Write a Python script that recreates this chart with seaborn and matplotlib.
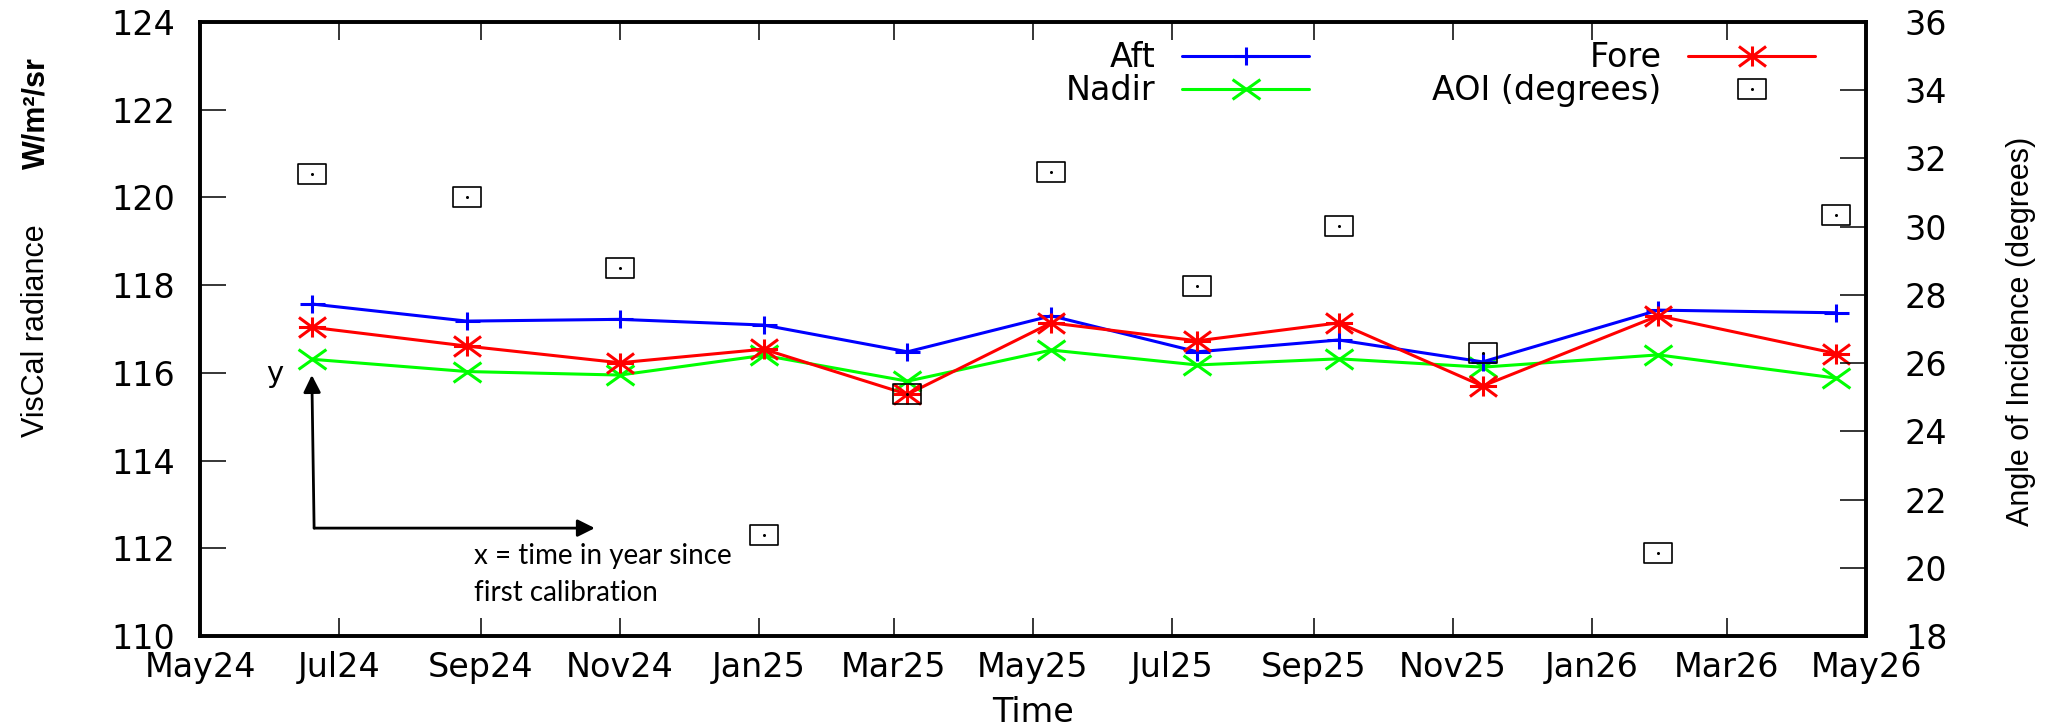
import numpy as np
import pandas as pd
import matplotlib
matplotlib.use("Agg")
import matplotlib.pyplot as plt
import matplotlib.dates as mdates
from matplotlib.path import Path
from matplotlib.legend_handler import HandlerTuple
from matplotlib import font_manager
import seaborn as sns

# calibration dates and values
dates = pd.to_datetime(["2024-06-19", "2024-08-26", "2024-11-01", "2025-01-03",
                        "2025-03-07", "2025-05-09", "2025-07-12", "2025-09-12",
                        "2025-11-14", "2026-01-30", "2026-04-18"])
aft = [117.57, 117.18, 117.22, 117.09, 116.48, 117.30, 116.48, 116.75, 116.25, 117.43, 117.37]
fore = [117.04, 116.61, 116.23, 116.54, 115.51, 117.14, 116.73, 117.14, 115.70, 117.30, 116.44]
nadir = [116.31, 116.03, 115.95, 116.40, 115.81, 116.52, 116.18, 116.32, 116.13, 116.41, 115.88]
aoi = [31.55, 30.87, 28.8, 20.96, 25.09, 31.6, 28.27, 30.03, 26.3, 20.43, 30.35]

sns.set_style("ticks", {"axes.edgecolor": "black", "xtick.color": "black",
                        "ytick.color": "black", "text.color": "black",
                        "axes.labelcolor": "black"})
plt.rcParams["font.family"] = ["DejaVu Sans"]

# narrow font for the rotated axis titles, if present
names = {f.name for f in font_manager.fontManager.ttflist}
if "Liberation Sans Narrow" in names:
    vfont, vsize = "Liberation Sans Narrow", 27
else:
    vfont, vsize = "Liberation Sans", 22

# gnuplot-like point shapes (a bit wider than tall)
M, L, C = Path.MOVETO, Path.LINETO, Path.CLOSEPOLY
plus = Path([(-1.4, 0), (1.4, 0), (0, -1), (0, 1)], [M, L, M, L])
cross = Path([(-1.4, -1), (1.4, 1), (-1.4, 1), (1.4, -1)], [M, L, M, L])
star = Path([(-1.35, 0), (1.35, 0), (0, -1), (0, 1),
             (-1.35, -1), (1.35, 1), (-1.35, 1), (1.35, -1)], [M, L] * 4)
box = Path([(-1.4, -1), (1.4, -1), (1.4, 1), (-1.4, 1), (-1.4, -1)], [M, L, L, L, C])

fig = plt.figure(figsize=(20.46, 7.27), dpi=100)
ax = fig.add_axes([200 / 2046, 91 / 727, 1666 / 2046, 614 / 727])

sns.lineplot(x=dates, y=nadir, ax=ax, color="#00ff00", lw=2.2, marker=cross, ms=20,
             mec="#00ff00", mfc="none", mew=2.2, zorder=3)
l_nadir = ax.lines[-1]
sns.lineplot(x=dates, y=aft, ax=ax, color="#0000ff", lw=2.2, marker=plus, ms=18,
             mec="#0000ff", mfc="none", mew=2.2, zorder=4)
l_aft = ax.lines[-1]
sns.lineplot(x=dates, y=fore, ax=ax, color="#ff0000", lw=2.2, marker=star, ms=19.5,
             mec="#ff0000", mfc="none", mew=2.2, zorder=5)
l_fore = ax.lines[-1]

ax2 = ax.twinx()
sns.lineplot(x=dates, y=aoi, ax=ax2, color="black", ls="none", marker=box, ms=20,
             mec="black", mfc="none", mew=1.2)
l_box = ax2.lines[-1]
sns.lineplot(x=dates, y=aoi, ax=ax2, color="black", ls="none", marker="o", ms=2.2,
             mec="black", mfc="black", mew=0)
l_dot = ax2.lines[-1]

ax.set_xlim(pd.Timestamp("2024-05-01"), pd.Timestamp("2026-05-01"))
ax.set_ylim(110, 124)
ax.set_yticks(np.arange(110, 125, 2))
ax2.set_ylim(18, 36)
ax2.set_yticks(np.arange(18, 37, 2))
ax.xaxis.set_major_locator(mdates.MonthLocator(bymonth=[1, 3, 5, 7, 9, 11]))
ax.xaxis.set_major_formatter(mdates.DateFormatter("%b%y"))

ax.tick_params(axis="x", direction="in", length=13, width=1.1, top=True, bottom=True,
               pad=11, labelsize=24)
ax.tick_params(axis="y", direction="in", length=19, width=1.1, left=True, right=False,
               pad=18, labelsize=24)
ax2.tick_params(axis="y", direction="in", length=19, width=1.1, right=True, left=False,
                pad=28, labelsize=24)
for a in (ax, ax2):
    for s in a.spines.values():
        s.set_linewidth(2.6)
        s.set_color("black")

ax.set_ylabel("")
ax2.set_ylabel("")
ax.set_xlabel("Time", fontsize=24)
ax.xaxis.set_label_coords(0.5, -0.125)
ax.xaxis.label.set_va("center")

fig.text(36 / 2046, 1 - 331 / 727, "VisCal radiance", rotation=90, ha="center",
         va="center", fontsize=vsize, family=vfont)
fig.text(36 / 2046, 1 - 113 / 727, "W/m²/sr", rotation=90, ha="center",
         va="center", fontsize=vsize, family=vfont, weight="bold")
fig.text(2021 / 2046, 1 - 331 / 727, "Angle of Incidence (degrees)", rotation=90,
         ha="center", va="center", fontsize=vsize, family=vfont)

# annotation arrows and notes
d = mdates.date2num
arrow = dict(arrowstyle="-|>", color="black", lw=2, mutation_scale=26, shrinkA=0, shrinkB=0)
corner = (d(pd.Timestamp("2024-06-20")), 112.46)
ax.annotate("", xy=(d(pd.Timestamp("2024-06-19")), 115.95), xytext=corner, arrowprops=arrow)
ax.annotate("", xy=(d(pd.Timestamp("2024-10-21")), 112.46), xytext=corner, arrowprops=arrow)
ax.text(d(pd.Timestamp("2024-06-03")), 115.97, "y", ha="center", va="center", fontsize=21)
ax.text(d(pd.Timestamp("2024-08-29")), 111.64, "x = time in year since", ha="left",
        va="baseline", fontsize=20, family="Lato")
ax.text(d(pd.Timestamp("2024-08-29")), 110.80, "first calibration", ha="left",
        va="baseline", fontsize=20, family="Lato")

for a in (ax, ax2):
    if a.get_legend() is not None:
        a.get_legend().remove()

ax2.legend([l_aft, l_nadir, l_fore, (l_box, l_dot)],
           ["Aft", "Nadir", "Fore", "AOI (degrees)"],
           handler_map={tuple: HandlerTuple(ndivide=1)},
           ncol=2, markerfirst=False, frameon=False, loc="upper right",
           bbox_to_anchor=(1815 / 2046, 0.943), bbox_transform=fig.transFigure,
           borderpad=0, borderaxespad=0, handlelength=3.8, handletextpad=0.8,
           columnspacing=3.7, labelspacing=0.0, fontsize=24, numpoints=1)

fig.savefig("out.png", dpi=100)
